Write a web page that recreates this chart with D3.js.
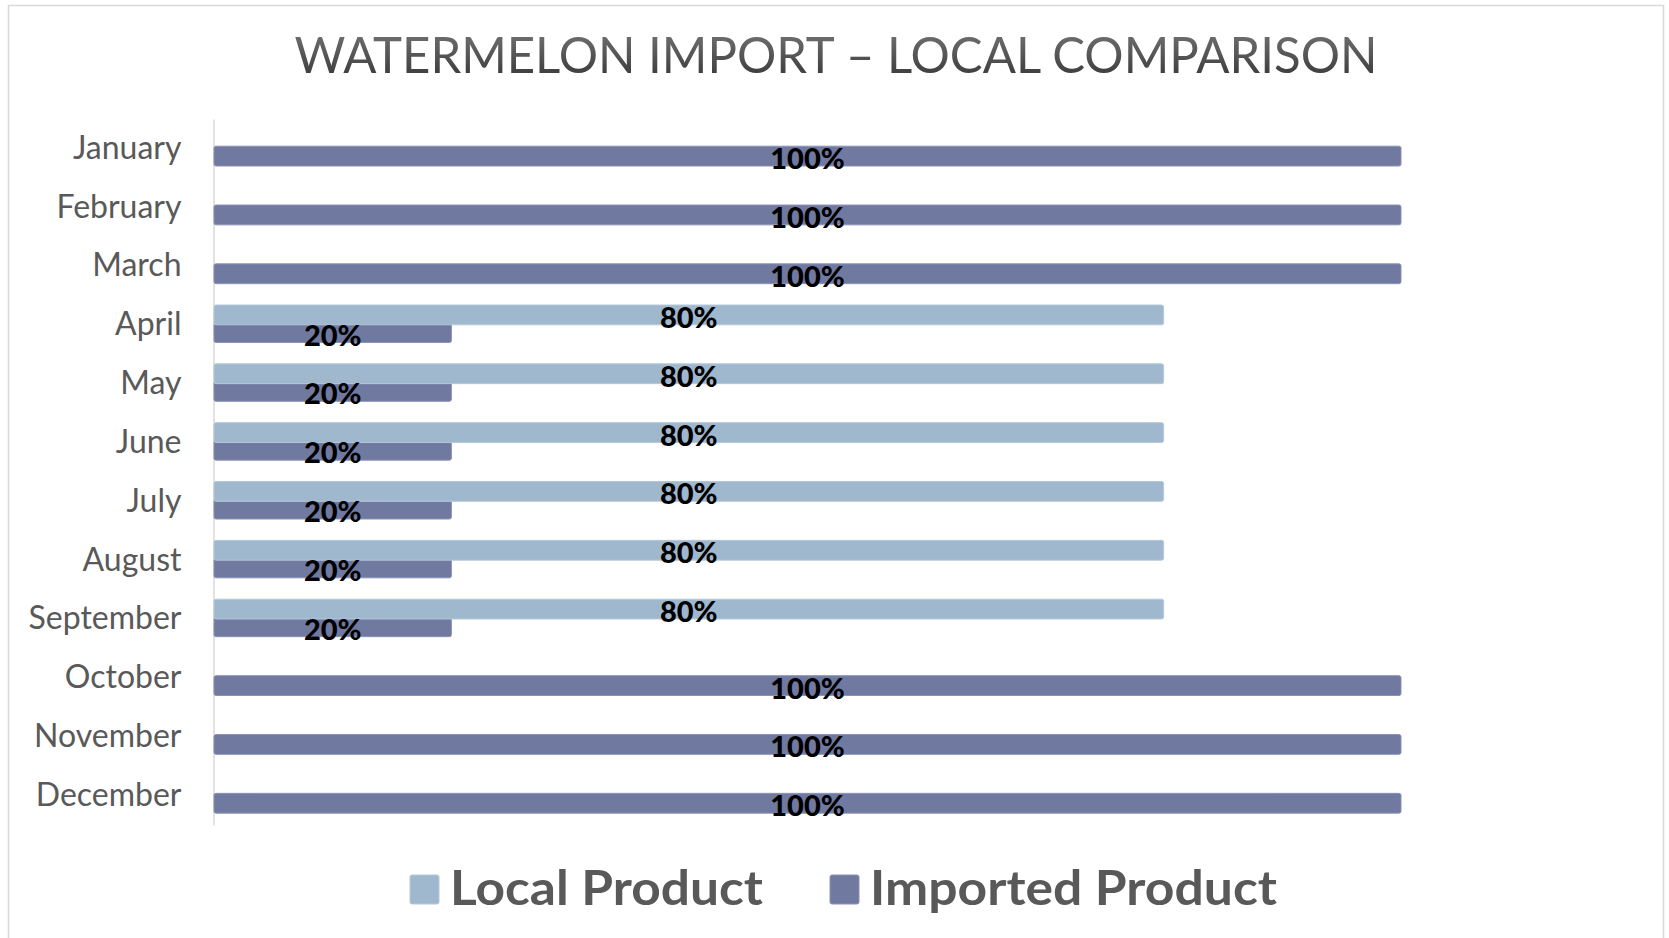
<!DOCTYPE html>
<html>
<head>
<meta charset="utf-8">
<script src="https://cdn.jsdelivr.net/npm/d3@7"></script>
<style>
  body { margin: 0; background: #fff; }
  svg { display: block; }
</style>
</head>
<body>
<svg width="1669" height="938"></svg>
<script>
// chart data
var months = ["January", "February", "March", "April", "May", "June",
              "July", "August", "September", "October", "November", "December"];
var seriesNames = ["Local Product", "Imported Product"];
var localValues    = [0, 0, 0, 0.8, 0.8, 0.8, 0.8, 0.8, 0.8, 0, 0, 0];
var importedValues = [1, 1, 1, 0.2, 0.2, 0.2, 0.2, 0.2, 0.2, 1, 1, 1];
var seriesColors = ["#a0b8ce", "#7079a0"];
var seriesStroke = ["#b4c8da", "#8a92b6"];

var svg = d3.select("svg");

// outer chart border
svg.append("rect")
  .attr("x", 8.5).attr("y", 5.5)
  .attr("width", 1655).attr("height", 940)
  .attr("fill", "#fff")
  .attr("stroke", "#d9d9d9")
  .attr("stroke-width", 1.5);

// title with a soft vertical gradient
var defs = svg.append("defs");
var grad = defs.append("linearGradient")
  .attr("id", "titleGrad")
  .attr("x1", 0).attr("y1", 0).attr("x2", 0).attr("y2", 1);
grad.append("stop").attr("offset", "0%").attr("stop-color", "#7a7a7a");
grad.append("stop").attr("offset", "100%").attr("stop-color", "#333333");

svg.append("text")
  .attr("x", 836)
  .attr("y", 73)
  .attr("text-anchor", "middle")
  .attr("font-family", "Lato, 'Noto Sans', sans-serif")
  .attr("font-size", 50)
  .attr("textLength", 1083)
  .attr("lengthAdjust", "spacingAndGlyphs")
  .attr("fill", "url(#titleGrad)")
  .text("WATERMELON IMPORT \u2013 LOCAL COMPARISON");

// scales
var x = d3.scaleLinear().domain([0, 1]).range([214, 1401]);
var y = d3.scaleBand().domain(months).range([119, 825]);
var y1 = d3.scaleBand().domain(seriesNames).range([9.5, 47]).paddingInner(-0.12);

// category axis
var yAxis = svg.append("g")
  .attr("transform", "translate(213.5,0)")
  .call(d3.axisLeft(y).tickSize(0).tickSizeOuter(0).tickPadding(32));
yAxis.select(".domain").attr("stroke", "#d9d9d9").attr("stroke-width", 1.5);
yAxis.selectAll("text")
  .attr("font-family", "Lato, 'Noto Sans', sans-serif")
  .attr("font-size", 32)
  .attr("fill", "#595959")
  .attr("dy", "0.32em");

var rows = months.map(function(m, i) {
  return { month: m, values: [localValues[i], importedValues[i]] };
});

// imported first, local on top (local overlaps slightly)
[1, 0].forEach(function(s) {
  svg.append("g").selectAll("rect")
    .data(rows.filter(function(d) { return d.values[s] > 0; }))
    .join("rect")
    .attr("x", x(0))
    .attr("y", function(d) { return y(d.month) + y1(seriesNames[s]); })
    .attr("width", function(d) { return x(d.values[s]) - x(0); })
    .attr("height", y1.bandwidth())
    .attr("rx", 2)
    .attr("fill", seriesColors[s])
    .attr("stroke", seriesStroke[s])
    .attr("stroke-width", 1);
});

// data labels
[1, 0].forEach(function(s) {
  svg.append("g").selectAll("text")
    .data(rows.filter(function(d) { return d.values[s] > 0; }))
    .join("text")
    .attr("x", function(d) { return (x(0) + x(d.values[s])) / 2; })
    .attr("y", function(d) { return y(d.month) + y1(seriesNames[s]) + y1.bandwidth() / 2; })
    .attr("dy", "0.45em")
    .attr("text-anchor", "middle")
    .attr("font-family", "Lato, 'Noto Sans', sans-serif")
    .attr("font-weight", 900)
    .attr("font-size", 29)
    .attr("fill", "#000")
    .text(function(d) { return Math.round(d.values[s] * 100) + "%"; });
});

// legend
var legendX = [410, 830];
var legendTextW = [313, 407];
var items = svg.append("g").selectAll("g")
  .data(seriesNames)
  .join("g")
  .attr("transform", function(d, i) { return "translate(" + legendX[i] + ",0)"; });
items.append("rect")
  .attr("y", 875)
  .attr("width", 29).attr("height", 29)
  .attr("rx", 2)
  .attr("fill", function(d, i) { return seriesColors[i]; })
  .attr("stroke", function(d, i) { return seriesStroke[i]; });
items.append("text")
  .attr("x", 40)
  .attr("y", 905)
  .attr("font-family", "Lato, 'Noto Sans', sans-serif")
  .attr("font-weight", 700)
  .attr("font-size", 48)
  .attr("textLength", function(d, i) { return legendTextW[i]; })
  .attr("lengthAdjust", "spacingAndGlyphs")
  .attr("fill", "#595959")
  .text(function(d) { return d; });
</script>
</body>
</html>
